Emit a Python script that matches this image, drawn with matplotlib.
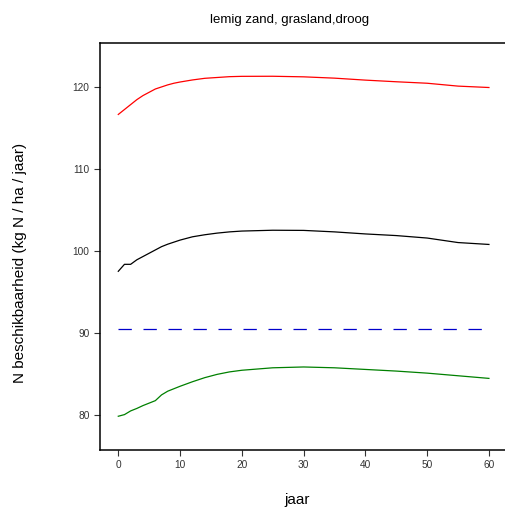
import numpy as np
import matplotlib
matplotlib.use("Agg")
import matplotlib.pyplot as plt

plt.rcParams['font.family'] = ['Liberation Sans', 'DejaVu Sans']
plt.rcParams['lines.scale_dashes'] = False

jaar = [0, 1, 2, 3, 4, 5, 6, 7, 8, 9, 10, 12, 14, 16, 18, 20, 25, 30, 35, 40, 45, 50, 55, 60]

rood = [116.6, 117.2, 117.8, 118.4, 118.9, 119.3, 119.7, 119.95, 120.2, 120.4, 120.55, 120.8,
        121.0, 121.1, 121.2, 121.24, 121.25, 121.18, 121.02, 120.78, 120.58, 120.4, 120.05, 119.88]
zwart = [97.5, 98.35, 98.35, 98.9, 99.3, 99.7, 100.1, 100.5, 100.8, 101.05, 101.3, 101.7,
         101.95, 102.15, 102.3, 102.4, 102.5, 102.48, 102.3, 102.05, 101.85, 101.55, 101.0, 100.77]
groen = [79.85, 80.05, 80.5, 80.8, 81.15, 81.45, 81.75, 82.45, 82.9, 83.2, 83.5, 84.05,
         84.55, 84.95, 85.25, 85.45, 85.75, 85.85, 85.75, 85.55, 85.35, 85.1, 84.78, 84.46]
blauw = [90.43] * len(jaar)

xticks = [0, 10, 20, 30, 40, 50, 60]
yticks = [80, 90, 100, 110, 120]

W, H = 505, 511
fig = plt.figure(figsize=(W/100, H/100), dpi=100)
ax = fig.add_axes([100/W, 1-450/H, 405/W, (450-43)/H])

ax.plot(jaar, rood, color='red', lw=0.9)
ax.plot(jaar, zwart, color='black', lw=0.9)
ax.plot(jaar, blauw, color='#0000cc', lw=0.9, dashes=(9.6, 8.4))
ax.plot(jaar, groen, color='green', lw=0.9)

ax.set_xlim(-2.96, 62.6)
ax.set_ylim(75.74, 125.3)
ax.set_xticks(xticks)
ax.set_yticks(yticks)
ax.spines['right'].set_visible(False)
for s in ['left', 'bottom', 'top']:
    ax.spines[s].set_linewidth(1.1)
ax.tick_params(direction='out', length=4.5, width=0.8, labelsize=7.3, colors='#333333', pad=3)

# titels als losse teksten op pixelposities
fig.text(290/W, 1-20/H, 'lemig zand, grasland,droog', fontsize=9.5, ha='center', va='center')
fig.text(297/W, 1-500/H, 'jaar', fontsize=11, ha='center', va='center')
fig.text(20/W, 1-263/H, 'N beschikbaarheid (kg N / ha / jaar)', fontsize=11,
         rotation=90, ha='center', va='center')

fig.savefig('out.png', dpi=100)
